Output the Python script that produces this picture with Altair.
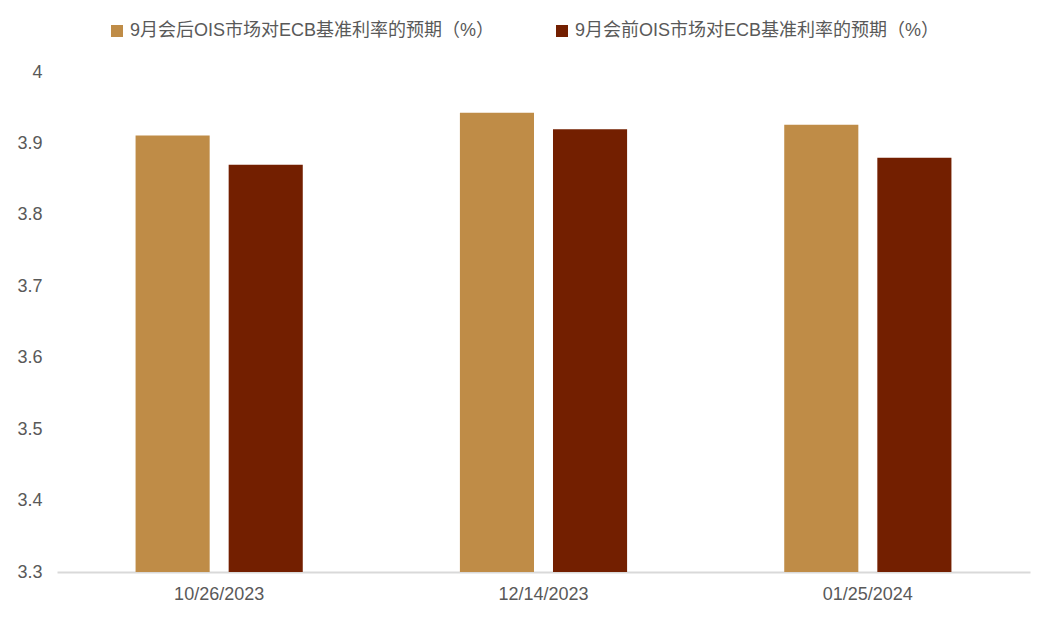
import altair as alt
import pandas as pd

dates = ["10/26/2023", "12/14/2023", "01/25/2024"]
series_names = ["9月会后OIS市场对ECB基准利率的预期（%）", "9月会前OIS市场对ECB基准利率的预期（%）"]
after_vals = [3.911, 3.943, 3.926]
before_vals = [3.870, 3.920, 3.880]
colors = ["#BF8C47", "#731F00"]

rows = []
for d, a, b in zip(dates, after_vals, before_vals):
    rows.append({"date": d, "series": series_names[0], "value": a})
    rows.append({"date": d, "series": series_names[1], "value": b})
df = pd.DataFrame(rows)

font = "Liberation Sans, Noto Sans CJK SC"

chart = alt.Chart(df).mark_bar(clip=True).encode(
    x=alt.X("date:N", sort=dates, title=None,
            scale=alt.Scale(paddingInner=0, paddingOuter=0),
            axis=alt.Axis(labelAngle=0, ticks=False, labelPadding=13, labelFontSize=18,
                          labelColor="#595959", labelFont=font, domainColor="#D9D9D9",
                          domainWidth=2, labelLimit=0)),
    xOffset=alt.XOffset("series:N", sort=series_names,
                        scale=alt.Scale(paddingInner=0.204, paddingOuter=0.844)),
    y=alt.Y("value:Q", title=None,
            scale=alt.Scale(domain=[3.3, 4.0], nice=False, zero=False),
            axis=alt.Axis(values=[3.3, 3.4, 3.5, 3.6, 3.7, 3.8, 3.9, 4.0], grid=False,
                          domain=False, ticks=False, labelPadding=15, labelFontSize=18,
                          labelColor="#595959", labelFont=font,
                          labelExpr="format(datum.value, '.1~f')")),
    color=alt.Color("series:N", sort=series_names, title=None,
                    scale=alt.Scale(domain=series_names, range=colors),
                    legend=alt.Legend(orient="none", legendX=51, legendY=-50,
                                      direction="horizontal", symbolType="square",
                                      symbolSize=144, symbolStrokeWidth=0,
                                      labelFontSize=18, labelColor="#595959",
                                      labelFont=font, columnPadding=58, labelOffset=4,
                                      labelLimit=0)),
).properties(
    width=973, height=500,
    autosize=alt.AutoSizeParams(type="none"),
    padding={"left": 49, "top": 64, "right": 14, "bottom": 40},
).configure_view(stroke=None)

chart.save("out.html", embed_options={"renderer": "svg", "actions": False})
